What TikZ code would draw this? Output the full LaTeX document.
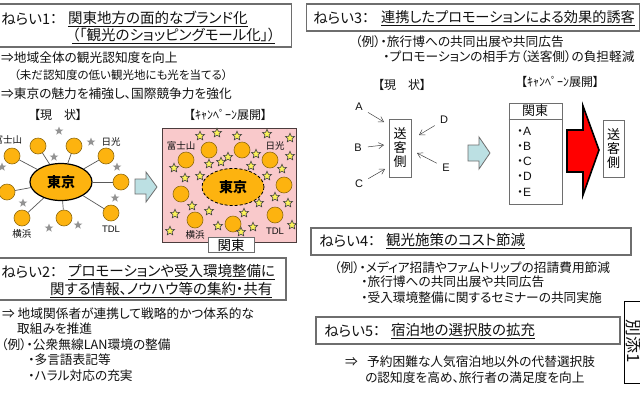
\documentclass[tikz,border=0pt]{standalone}
\usepackage{fontspec}
\setmainfont[RawFeature={+palt}]{Noto Sans CJK JP}
\newfontfamily\latinf{Liberation Sans}
\usetikzlibrary{shapes.geometric,arrows.meta}
\definecolor{boxgray}{HTML}{6E6E6E}
\definecolor{circfill}{HTML}{FDB30F}
\definecolor{circline}{HTML}{8F6A10}
\definecolor{pinkbg}{HTML}{F9C9CB}
\definecolor{arrowblue}{HTML}{BCE0E3}
\definecolor{starfill}{HTML}{FBF25A}
\definecolor{inktext}{HTML}{111111}
\tikzset{
    titlebox/.style={draw=boxgray,line width=1.5pt,fill=white,inner sep=0pt},
    titletxt/.style={anchor=west,inner sep=0pt,text=inktext,font=\fontsize{14.5}{16}\selectfont},
    bodytxt/.style={anchor=west,inner sep=0pt,text=inktext,font=\fontsize{12.7}{14}\selectfont},
    smalltxt/.style={anchor=west,inner sep=0pt,text=inktext,font=\fontsize{11.5}{13}\selectfont},
    headtxt/.style={inner sep=0pt,text=inktext,font=\fontsize{12}{14}\selectfont},
    citytxt/.style={inner sep=0pt,text=inktext,font=\fontsize{9.5}{11}\selectfont},
    cityball/.style={circle,draw=circline,line width=0.6pt,fill=circfill,minimum size=16pt,inner sep=0pt},
    tokyo/.style={ellipse,fill=circfill,minimum width=62pt,minimum height=37pt,inner sep=0pt,font=\fontsize{14}{16}\selectfont\bfseries},
    graystar/.style={star,star points=5,star point ratio=2.4,fill=gray!85,minimum size=9pt,inner sep=0pt},
    yellowstar/.style={star,star points=5,star point ratio=2.2,draw=black!75,line width=0.6pt,fill=starfill,minimum size=9.5pt,inner sep=0pt},
    sidebox/.style={draw=boxgray,line width=0.8pt,fill=white,minimum width=22pt,minimum height=58pt,inner sep=0pt,align=center,font=\fontsize{13}{15}\selectfont},
    thinarrow/.style={->,draw=black!75,line width=0.5pt,>={Straight Barb[length=5pt,width=6pt]}},
    blockarrow/.style={draw=boxgray,line width=0.8pt,fill=arrowblue},
}
\begin{document}
\begin{tikzpicture}[x=1pt,y=-1pt]
    \clip (0,0) rectangle (640,400);
    \fill[white] (0,0) rectangle (640,400);

    % aim 1
    \node[titlebox,minimum width=293pt,minimum height=43pt] (boxA) at (145,25.5) {};
    \node[titletxt] (boxAlbl) at (1,19) {ねらい1：};
    \node[titletxt] (boxAa) at (68,19) {\underline{関東地方の面的なブランド化}};
    \node[titletxt] (boxAb) at (72,36) {\underline{（「観光のショッピングモール化」）}};
    \node[bodytxt] (aimAa) at (1,58) {⇒地域全体の観光認知度を向上};
    \node[smalltxt] (aimAb) at (14,75) {（未だ認知度の低い観光地にも光を当てる）};
    \node[bodytxt] (aimAc) at (1,94) {⇒東京の魅力を補強し、国際競争力を強化};

    \node[headtxt] (headL) at (58,115) {【現　状】};
    \node[headtxt] (headR) at (228,115) {【ｷｬﾝﾍﾟｰﾝ展開】};

    % tokyo, now
    \node[tokyo,draw=black,line width=1.2pt] (hubL) at (61,182) {東京};
    \foreach \x/\y [count=\i] in {12/156,38/146,74/146,106/156,121/182,111/213,64/218,22/218,7/192} {
        \node[cityball] (ballL\i) at (\x,\y) {};
        \draw[black!65,line width=0.7pt] (hubL) -- (ballL\i);
    }
    \foreach \x/\y [count=\i] in {59/131,91/142,54/157,117/167,2/167,115/198,23/203,78/225,49/228} {
        \node[graystar] (grayS\i) at (\x,\y) {};
    }
    \node[citytxt] (cityLa) at (8,140) {富士山};
    \node[citytxt] (cityLb) at (111,142) {日光};
    \node[citytxt,font=\latinf\fontsize{9.5}{11}\selectfont] (cityLc) at (111,229) {TDL};
    \node[citytxt] (cityLd) at (22,234) {横浜};

    \draw[blockarrow] (135,179) -- (146,179) -- (146,172) -- (157,187) -- (146,202) -- (146,194) -- (135,194) -- cycle;

    % tokyo, campaign
    \node[draw=black!70!pinkbg,line width=0.8pt,fill=pinkbg,minimum width=134pt,minimum height=114pt,inner sep=0pt] (pinkArea) at (229,185) {};
    \node[tokyo,draw=black,line width=0.8pt,densely dashed] (hubR) at (233,187) {東京};
    \foreach \x/\y [count=\i] in {186/160,209/150,242/150,270/160,284/185,275/215,233/224,195/220,181/194} {
        \node[cityball] (ballR\i) at (\x,\y) {};
    }
    \foreach \x/\y [count=\i] in {200/136,217/133,237/136,267/134,290/138,256/154,290/156,228/157,221/162,209/164,251/166,282/169,174/168,185/178,200/176,267/176,275/197,288/203,259/203,192/206,244/213,209/211,175/214,253/227,218/226,241/232,292/225,170/231} {
        \node[yellowstar] (yelS\i) at (\x,\y) {};
    }
    \node[citytxt] (cityRa) at (181,146) {富士山};
    \node[citytxt] (cityRb) at (275,146) {日光};
    \node[citytxt,font=\latinf\fontsize{9.5}{11}\selectfont] (cityRc) at (275,231) {TDL};
    \node[citytxt] (cityRd) at (195,235) {横浜};
    \node[draw=boxgray,line width=0.8pt,fill=white,minimum width=46pt,minimum height=15pt,inner sep=0pt,font=\fontsize{13.5}{15}\selectfont] (kantoA) at (231,245) {関東};

    % aim 2
    \node[titlebox,minimum width=288pt,minimum height=42pt] (boxB) at (142,279) {};
    \node[titletxt] (boxBlbl) at (1,272) {ねらい2：};
    \node[titletxt] (boxBa) at (68,272) {\underline{プロモーションや受入環境整備に}};
    \node[titletxt] (boxBb) at (50,290) {\underline{関する情報、ノウハウ等の集約・共有}};
    \node[bodytxt] (aimBa) at (2,314) {⇒ 地域関係者が連携して戦略的かつ体系的な};
    \node[bodytxt] (aimBb) at (17,329) {取組みを推進};
    \node[bodytxt] (aimBc) at (1,345) {（例）・公衆無線LAN環境の整備};
    \node[bodytxt] (aimBd) at (28,360) {・多言語表記等};
    \node[bodytxt] (aimBe) at (28,376) {・ハラル対応の充実};

    % aim 3
    \node[titlebox,minimum width=333pt,minimum height=27pt] (boxC) at (473,17.5) {};
    \node[titletxt] (boxClbl) at (313,18) {ねらい3：};
    \node[titletxt,font=\fontsize{14.2}{16}\selectfont] (boxCa) at (381,18) {\underline{連携したプロモーションによる効果的誘客}};
    \node[bodytxt] (aimCa) at (355,42) {（例）・旅行博への共同出展や共同広告};
    \node[bodytxt] (aimCb) at (383,57) {・プロモーションの相手方（送客側）の負担軽減};

    \node[headtxt] (headC) at (402,85) {【現　状】};
    \node[headtxt] (headD) at (560,82) {【ｷｬﾝﾍﾟｰﾝ展開】};

    \node[sidebox] (sendA) at (400,148) {送\\[-1pt]客\\[-1pt]側};
    \foreach \n/\x/\y in {A/359/107,B/358/148,C/359/184,D/444/120,E/446/168} {
        \node[inner sep=0pt,text=inktext,font=\latinf\fontsize{11}{13}\selectfont] (src\n) at (\x,\y) {\n};
    }
    \coordinate (tipA) at (384,122);
    \coordinate (tipB) at (384,145);
    \coordinate (tipC) at (385,169);
    \coordinate (tipD) at (419,135);
    \coordinate (tipE) at (417,153);
    \draw[thinarrow,shorten <=6pt] (srcA) -- (tipA);
    \draw[thinarrow,shorten <=6pt] (srcB) -- (tipB);
    \draw[thinarrow,shorten <=6pt] (srcC) -- (tipC);
    \draw[thinarrow,shorten <=6pt] (srcD) -- (tipD);
    \draw[thinarrow,shorten <=6pt] (srcE) -- (tipE);

    \draw[blockarrow] (468,145) -- (479,145) -- (479,137) -- (490,153) -- (479,169) -- (479,161) -- (468,161) -- cycle;

    \node[draw=boxgray,line width=0.8pt,minimum width=53pt,minimum height=101pt,inner sep=0pt] (listBox) at (535.5,153.5) {};
    \draw[boxgray,line width=0.8pt] (listBox.west |- 0,119) -- (listBox.east |- 0,119);
    \node[inner sep=0pt,text=inktext,font=\fontsize{13}{15}\selectfont] (listHead) at (535,111) {関東};
    \foreach \n/\y in {A/131,B/146,C/161,D/176.5,E/192} {
        \node[anchor=west,inner sep=0pt,text=inktext,font=\fontsize{12}{14}\selectfont] (list\n) at (517,\y) {・{\latinf\n}};
    }

    \draw[black,line width=1.6pt,fill=red,line join=miter] (567,130) -- (583,130) -- (583,106) -- (599,150) -- (583,195) -- (583,172) -- (567,172) -- cycle;

    \node[sidebox,minimum height=57pt,minimum width=21pt] (sendB) at (613.5,148.5) {送\\[-1pt]客\\[-1pt]側};

    % aim 4
    \node[titlebox,minimum width=320pt,minimum height=27pt] (boxD) at (471,241.5) {};
    \node[titletxt] (boxDlbl) at (319,241) {ねらい4：};
    \node[titletxt] (boxDa) at (386,241) {\underline{観光施策のコスト節減}};
    \node[bodytxt] (aimDa) at (334,268) {（例）・メディア招請やファムトリップの招請費用節減};
    \node[bodytxt] (aimDb) at (361,282) {・旅行博への共同出展や共同広告};
    \node[bodytxt] (aimDc) at (361,298) {・受入環境整備に関するセミナーの共同実施};

    % aim 5
    \node[titlebox,minimum width=304pt,minimum height=27pt] (boxE) at (468,330.5) {};
    \node[titletxt] (boxElbl) at (324,331) {ねらい5：};
    \node[titletxt] (boxEa) at (391,331) {\underline{宿泊地の選択肢の拡充}};
    \node[bodytxt] (aimEa) at (345,362) {⇒};
    \node[bodytxt] (aimEb) at (367,362) {予約困難な人気宿泊地以外の代替選択肢};
    \node[bodytxt] (aimEc) at (365,378) {の認知度を高め、旅行者の満足度を向上};

    % note at the edge
    \node[draw=black,line width=1pt,fill=white,minimum width=30pt,minimum height=82pt,inner sep=0pt] (noteBox) at (639,342) {};
    \node[rotate=-90,inner sep=0pt,text=inktext,font=\fontsize{17}{19}\selectfont] (noteTxt) at (634,341) {別添1};
\end{tikzpicture}
\end{document}
